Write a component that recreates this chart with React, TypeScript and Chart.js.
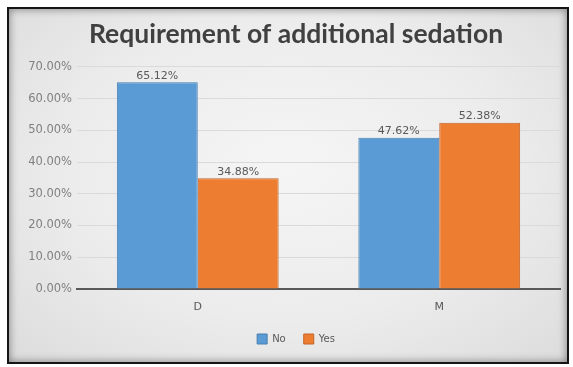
import React, { useEffect, useRef } from "react";
import { Chart, registerables } from "chart.js";

Chart.register(...registerables);

const TITLE = "Requirement of additional sedation";
const categories = ["D", "M"];
const seriesNames = ["No", "Yes"];
const noValues = [65.12, 47.62];
const yesValues = [34.88, 52.38];
const yTickValues = [0, 10, 20, 30, 40, 50, 60, 70];

const BLUE = "#5b9bd5";
const ORANGE = "#ed7d31";
const FONT = "'DejaVu Sans'";

const dataLabelPlugin = {
  id: "dataLabels",
  afterDatasetsDraw(chart: any) {
    const ctx = chart.ctx;
    ctx.save();
    ctx.font = "11px " + FONT;
    ctx.fillStyle = "#595959";
    ctx.textAlign = "center";
    ctx.textBaseline = "bottom";
    chart.data.datasets.forEach((ds: any, di: number) => {
      const meta = chart.getDatasetMeta(di);
      meta.data.forEach((el: any, i: number) => {
        const v = ds.data[i] as number;
        ctx.fillText(v.toFixed(2) + "%", el.x, el.y - 1);
      });
    });
    ctx.restore();
  },
};

export default function App() {
  const ref = useRef<HTMLCanvasElement | null>(null);
  useEffect(() => {
    if (!ref.current) return;
    const chart = new Chart(ref.current, {
      type: "bar",
      data: {
        labels: categories,
        datasets: [
          {
            label: seriesNames[0],
            data: noValues,
            backgroundColor: BLUE,
            borderColor: "#4a7fb0",
            borderWidth: 1,
          },
          {
            label: seriesNames[1],
            data: yesValues,
            backgroundColor: ORANGE,
            borderColor: "#c2652a",
            borderWidth: 1,
          },
        ],
      },
      options: {
        responsive: false,
        animation: false,
        layout: { padding: { left: 0, right: 0, top: 0, bottom: 8 } },
        datasets: {
          bar: { categoryPercentage: 0.67, barPercentage: 1.0 },
        },
        plugins: {
          title: {
            display: true,
            text: TITLE,
            color: "#404040",
            font: { family: "Lato", size: 26.5, weight: "bold" },
            padding: { top: 10, bottom: 16 },
          },
          legend: {
            position: "bottom",
            labels: {
              boxWidth: 10,
              boxHeight: 10,
              color: "#595959",
              font: { family: FONT, size: 10 },
              padding: 18,
            },
          },
          tooltip: { enabled: false },
        },
        scales: {
          x: {
            afterFit(scale: any) {
              scale.height = 27;
            },
            grid: { display: false, drawTicks: false },
            border: { display: true, color: "#595959", width: 2 },
            ticks: {
              color: "#595959",
              font: { family: FONT, size: 11 },
              padding: 12,
            },
          },
          y: {
            min: 0,
            max: 70,
            afterBuildTicks(scale: any) {
              scale.ticks = yTickValues.map((v) => ({ value: v }));
            },
            afterFit(scale: any) {
              scale.width = 68;
            },
            grid: { color: "#dadada", drawTicks: false },
            border: { display: false },
            ticks: {
              color: "#808080",
              font: { family: FONT, size: 11.5 },
              padding: 5,
              callback: (v: any) => Number(v).toFixed(2) + "%",
            },
          },
          spacer: {
            type: "linear",
            position: "right",
            display: true,
            afterFit(scale: any) {
              scale.width = 23;
            },
            grid: { display: false, drawTicks: false },
            border: { display: false },
            ticks: { display: false },
          },
        },
      },
      plugins: [dataLabelPlugin],
    });
    return () => chart.destroy();
  }, []);

  return (
    <div
      style={{
        position: "fixed",
        left: 7,
        top: 7,
        width: 562,
        height: 357,
        boxSizing: "border-box",
        border: "2px solid #151515",
        overflow: "hidden",
        background:
          "radial-gradient(ellipse at 50% 45%, #f5f5f5 0%, #ececec 55%, #dcdcdc 100%)",
        boxShadow: "inset 0 0 8px rgba(0,0,0,0.45)",
      }}
    >
      <canvas ref={ref} width={574} height={353} style={{ display: "block" }} />
    </div>
  );
}
